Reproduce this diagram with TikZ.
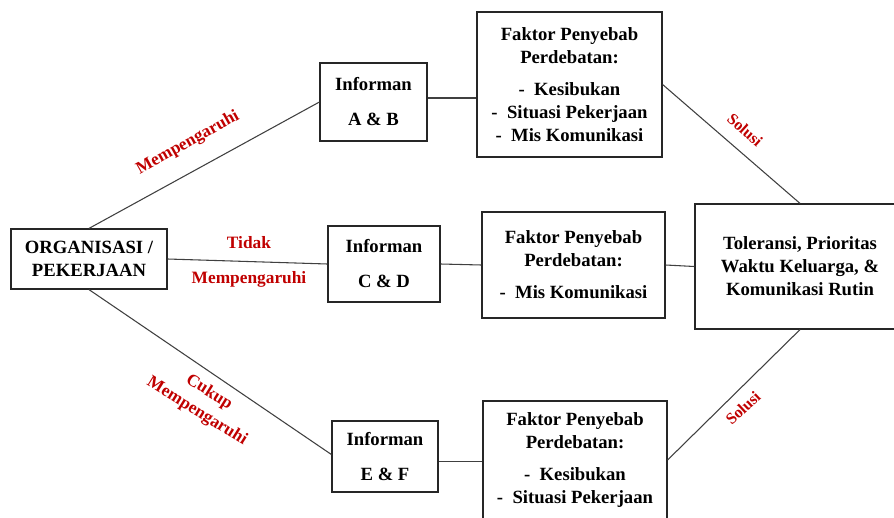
\documentclass[tikz,border=0pt]{standalone}
\usepackage{fontspec}
\setmainfont{Liberation Serif}
\usepackage{xcolor}
\usepackage{tikz}
\usetikzlibrary{positioning}
\definecolor{labelred}{HTML}{C00000}

\begin{document}
\begin{tikzpicture}[x=0.75pt, y=-0.75pt,
  box/.style={draw=black!85, line width=0.9pt, align=center, inner sep=0pt, font=\fontsize{14}{17.25}\selectfont\bfseries},
  lbl/.style={text=labelred, align=center, inner sep=1pt, font=\fontsize{13}{17}\selectfont\bfseries},
  link/.style={draw=black!75, line width=0.8pt}]
\useasboundingbox (0,0) rectangle (894,518);

\node[box, minimum width=117pt, minimum height=45pt] (org) at (89,259) {ORGANISASI /\\PEKERJAAN};
\node[box, minimum width=80.25pt, minimum height=58.5pt] (ab) at (373.5,102) {Informan\\[9pt]A \& B};
\node[box, minimum width=84pt, minimum height=57pt] (cd) at (384,264) {Informan\\[9pt]C \& D};
\node[box, minimum width=79.5pt, minimum height=53.25pt] (ef) at (385,456.5) {Informan\\[9pt]E \& F};
\node[box, minimum width=138.75pt, minimum height=108.75pt] (ft) at (569.5,84.5)
  {Faktor Penyebab\\Perdebatan:\\[6.75pt]-\ \ Kesibukan\\-\ \ Situasi Pekerjaan\\-\ \ Mis Komunikasi};
\node[box, minimum width=137.25pt, minimum height=79.5pt] (fm) at (573.5,265)
  {Faktor Penyebab\\Perdebatan:\\[6.75pt]-\ \ Mis Komunikasi};
\node[box, minimum width=138pt, minimum height=88.5pt] (fb) at (575,460)
  {Faktor Penyebab\\Perdebatan:\\[6.75pt]-\ \ Kesibukan\\-\ \ Situasi Pekerjaan};
\node[box, minimum width=157.5pt, minimum height=93.75pt] (tol) at (800,266.5)
  {Toleransi, Prioritas\\Waktu Keluarga, \&\\Komunikasi Rutin};

% connectors
\draw[link] (org.north) -- (ab.west);
\draw[link] (org.east) -- (cd.west);
\draw[link] (org.south) -- ([yshift=1.5pt]ef.west);
\draw[link] ([yshift=3pt]ab.east) -- ([yshift=3pt]ab.east -| ft.west);
\draw[link] (cd.east) -- (fm.west);
\draw[link] ([yshift=-4pt]ef.east) -- ([yshift=-4pt]ef.east -| fb.west);
\draw[link] (ft.east) -- (tol.north);
\draw[link] (fm.east) -- (tol.west);
\draw[link] (fb.east) -- (tol.south);

% labels
\node[lbl, rotate=29] (mp) at (188,143) {Mempengaruhi};
\node[lbl] (tm) at (249,262) {Tidak\\[9.25pt]Mempengaruhi};
\node[lbl, rotate=-32] (cm) at (203,402) {Cukup\\Mempengaruhi};
\node[lbl, rotate=-42, font=\fontsize{12}{14}\selectfont\bfseries] (s1) at (745,130) {Solusi};
\node[lbl, rotate=43, font=\fontsize{12}{14}\selectfont\bfseries] (s2) at (743,408) {Solusi};
\end{tikzpicture}
\end{document}
